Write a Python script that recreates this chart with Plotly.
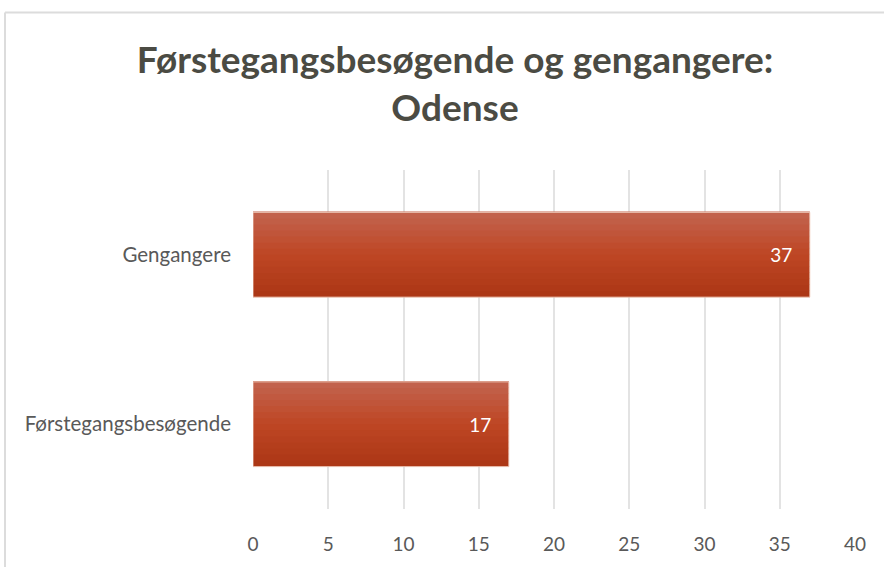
import plotly.graph_objects as go

categories = ["Førstegangsbesøgende", "Gengangere"]
values = [17, 37]
x_ticks = [0, 5, 10, 15, 20, 25, 30, 35, 40]
title_text = "Førstegangsbesøgende og gengangere:<br>Odense"

fig = go.Figure()

# gradient simulated by stacked strips of the same bars
N = 14
bar_w = 0.5
dw = bar_w / N
top = (194, 98, 76)
mid = (190, 70, 36)
bot = (172, 55, 22)
def lerp(a, b, t):
    return tuple(int(round(a[k] + (b[k] - a[k]) * t)) for k in range(3))
for i in range(N):
    t = i / (N - 1)  # 0 bottom, 1 top
    if t < 0.5:
        c = lerp(bot, mid, t / 0.5)
    else:
        c = lerp(mid, top, (t - 0.5) / 0.5)
    fig.add_trace(go.Bar(
        y=categories, x=values, orientation="h",
        width=dw * 1.15, offset=-bar_w / 2 + i * dw,
        marker=dict(color="rgb(%d,%d,%d)" % c, line=dict(width=0)),
        hoverinfo="skip", showlegend=False,
    ))

fig.add_trace(go.Bar(
    y=categories, x=values, orientation="h", width=bar_w,
    marker=dict(color="rgba(0,0,0,0)", line=dict(color="rgba(240,205,190,0.9)", width=1)),
    text=[str(v) + "\u00a0\u00a0\u00a0" for v in values], textposition="inside", insidetextanchor="end",
    textfont=dict(color="white", size=19, family="Lato, Open Sans, sans-serif"),
    showlegend=False,
))

W, H = 884, 567
L, R, T, B = 253, 29, 170, 55
pw = W - L - R
ph = H - T - B

fig.update_layout(
    width=W, height=H, barmode="overlay",
    margin=dict(l=L, r=R, t=T, b=B),
    paper_bgcolor="white", plot_bgcolor="white",
    title=dict(text=title_text, x=455 / W, xanchor="center", xref="container",
               y=1 - 73 / H, yanchor="top",
               font=dict(family="Lato, Open Sans, sans-serif", size=37, color="#4b4b43", weight="bold")),
    xaxis=dict(range=[0, 40], tickvals=x_ticks, showgrid=True, gridcolor="#e3e3e3", gridwidth=2,
               zeroline=False, showline=False,
               ticks="outside", ticklen=18, tickcolor="rgba(0,0,0,0)",
               tickfont=dict(family="Lato, Open Sans, sans-serif", size=19, color="#595959")),
    yaxis=dict(type="category", range=[-0.5, 1.5], showgrid=False, zeroline=False, showline=False,
               ticks="", ticklabelstandoff=21,
               tickfont=dict(family="Lato, Open Sans, sans-serif", size=20.5, color="#595959")),
    shapes=[
        dict(type="line", xref="paper", yref="paper",
             x0=(5 - L) / pw, x1=(W + 5 - L) / pw, y0=(H - B - 11) / ph, y1=(H - B - 11) / ph,
             line=dict(color="#dcdcdc", width=2)),
        dict(type="line", xref="paper", yref="paper",
             x0=(5 - L) / pw, x1=(5 - L) / pw, y0=(H - B - 11) / ph, y1=(-B - 5) / ph,
             line=dict(color="#dcdcdc", width=2)),
    ],
)

fig.write_html("out.html", config={"displayModeBar": False},
               post_script="document.body.style.margin='0';document.body.style.overflow='hidden';")
